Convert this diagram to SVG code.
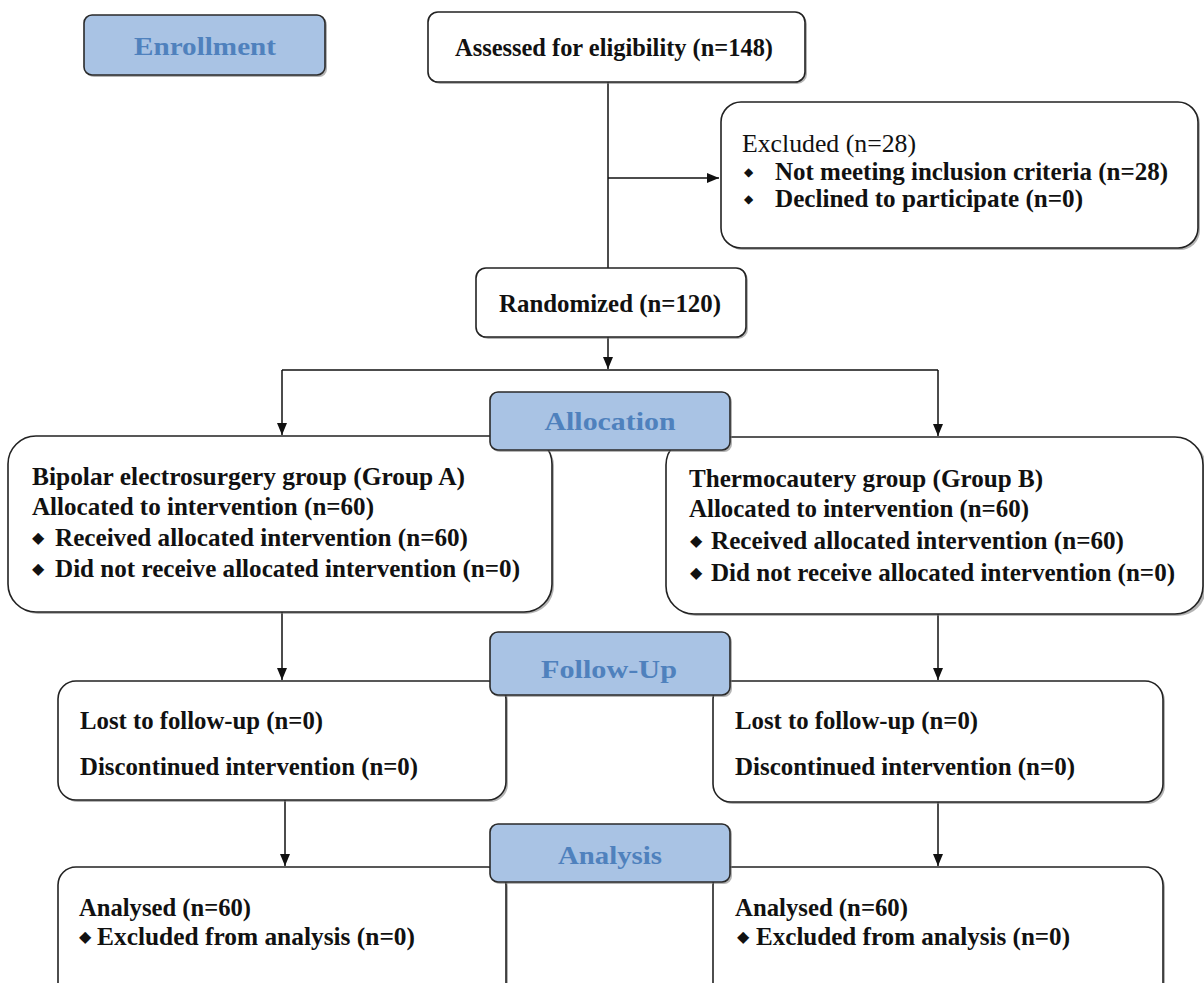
<svg xmlns="http://www.w3.org/2000/svg" width="1204" height="983" viewBox="0 0 1204 983">
<style>
.box{fill:#fff;stroke:#222;stroke-width:1.6}
.shadow{fill:#777;opacity:0.55}
.band{fill:#a9c3e4;stroke:#2a2a2a;stroke-width:1.6}
text{font-family:'Liberation Serif','Times New Roman',serif}
.t{font-size:25px;fill:#111;font-weight:bold}
.f{font-size:26px;fill:#111;font-weight:bold}
.tr{font-size:25px;fill:#111}
.d{font-size:16px;fill:#111}
.ds{font-size:12px;fill:#111}
.bt{font-size:26px;fill:#4f81bd;font-weight:bold;text-anchor:middle}
.ln{fill:none;stroke:#111;stroke-width:1.5}
</style>
<defs>
<marker id="ah" markerUnits="userSpaceOnUse" markerWidth="12" markerHeight="12" refX="12" refY="5" orient="auto">
<path d="M0,0 L12,5 L0,10 z" fill="#111"/>
</marker>
</defs>
<rect width="1204" height="983" fill="#fff"/>

<g id="connectors">
<line class="ln" x1="608" y1="82" x2="608" y2="268"/>
<line class="ln" x1="608" y1="178" x2="719" y2="178" marker-end="url(#ah)"/>
<line class="ln" x1="608" y1="337" x2="608" y2="369" marker-end="url(#ah)"/>
<polyline class="ln" points="282,370 938,370"/>
<line class="ln" x1="282" y1="370" x2="282" y2="435" marker-end="url(#ah)"/>
<line class="ln" x1="938" y1="370" x2="938" y2="436" marker-end="url(#ah)"/>
<line class="ln" x1="282" y1="612" x2="282" y2="680" marker-end="url(#ah)"/>
<line class="ln" x1="938" y1="614" x2="938" y2="680" marker-end="url(#ah)"/>
<line class="ln" x1="285" y1="800" x2="285" y2="866" marker-end="url(#ah)"/>
<line class="ln" x1="938" y1="802" x2="938" y2="866" marker-end="url(#ah)"/>
</g>

<g id="assessed">
<rect class="shadow" x="430" y="14" width="377" height="70" rx="10"/>
<rect class="box" x="428" y="12" width="377" height="70" rx="10"/>
<text class="t" x="455" y="56" textLength="318" lengthAdjust="spacingAndGlyphs">Assessed for eligibility  (n=148)</text>
</g>

<g id="excluded">
<rect class="shadow" x="723" y="104" width="477" height="146" rx="20"/>
<rect class="box" x="721" y="102" width="477" height="146" rx="20"/>
<text class="tr" x="742" y="152" textLength="174" lengthAdjust="spacingAndGlyphs">Excluded  (n=28)</text>
<text class="ds" x="744" y="176">◆</text>
<text class="t" x="775" y="180" textLength="393" lengthAdjust="spacingAndGlyphs">Not meeting inclusion  criteria  (n=28)</text>
<text class="ds" x="744" y="203">◆</text>
<text class="t" x="775" y="207" textLength="308" lengthAdjust="spacingAndGlyphs">Declined to participate  (n=0)</text>
</g>

<g id="randomized">
<rect class="shadow" x="478" y="270" width="270" height="69" rx="10"/>
<rect class="box" x="476" y="268" width="270" height="69" rx="10"/>
<text class="t" x="499" y="312" textLength="222" lengthAdjust="spacingAndGlyphs">Randomized  (n=120)</text>
</g>

<g id="groupA">
<rect class="shadow" x="10" y="438" width="544" height="176" rx="28"/>
<rect class="box" x="8" y="436" width="544" height="176" rx="28"/>
<text class="t" x="32" y="485" textLength="433" lengthAdjust="spacingAndGlyphs">Bipolar  electrosurgery  group  (Group  A)</text>
<text class="t" x="32" y="515" textLength="342" lengthAdjust="spacingAndGlyphs">Allocated  to intervention  (n=60)</text>
<text class="d" x="32" y="543">◆</text>
<text class="t" x="55" y="546" textLength="413" lengthAdjust="spacingAndGlyphs">Received allocated intervention  (n=60)</text>
<text class="d" x="32" y="574">◆</text>
<text class="t" x="55" y="577" textLength="465" lengthAdjust="spacingAndGlyphs">Did not receive allocated intervention  (n=0)</text>
</g>

<g id="groupB">
<rect class="shadow" x="668" y="439" width="538" height="177" rx="28"/>
<rect class="box" x="666" y="437" width="537" height="177" rx="28"/>
<text class="t" x="689" y="487" textLength="354" lengthAdjust="spacingAndGlyphs">Thermocautery  group  (Group  B)</text>
<text class="t" x="689" y="517" textLength="340" lengthAdjust="spacingAndGlyphs">Allocated  to intervention  (n=60)</text>
<text class="d" x="690" y="546">◆</text>
<text class="t" x="711" y="549" textLength="413" lengthAdjust="spacingAndGlyphs">Received allocated intervention  (n=60)</text>
<text class="d" x="690" y="578">◆</text>
<text class="t" x="711" y="581" textLength="464" lengthAdjust="spacingAndGlyphs">Did not receive allocated intervention  (n=0)</text>
</g>

<g id="followA">
<rect class="shadow" x="60" y="683" width="448" height="119" rx="18"/>
<rect class="box" x="58" y="681" width="448" height="119" rx="18"/>
<text class="f" x="80" y="729" textLength="243" lengthAdjust="spacingAndGlyphs">Lost to follow-up  (n=0)</text>
<text class="f" x="80" y="775" textLength="338" lengthAdjust="spacingAndGlyphs">Discontinued  intervention  (n=0)</text>
</g>

<g id="followB">
<rect class="shadow" x="715" y="683" width="450" height="121" rx="18"/>
<rect class="box" x="713" y="681" width="450" height="121" rx="18"/>
<text class="f" x="735" y="729" textLength="243" lengthAdjust="spacingAndGlyphs">Lost to follow-up  (n=0)</text>
<text class="f" x="735" y="775" textLength="340" lengthAdjust="spacingAndGlyphs">Discontinued  intervention  (n=0)</text>
</g>

<g id="analysisA">
<rect class="shadow" x="60" y="869" width="448" height="140" rx="18"/>
<rect class="box" x="58" y="867" width="448" height="140" rx="18"/>
<text class="f" x="79" y="916" textLength="172" lengthAdjust="spacingAndGlyphs">Analysed (n=60)</text>
<text class="d" x="79" y="942">◆</text>
<text class="f" x="97" y="945" textLength="318" lengthAdjust="spacingAndGlyphs">Excluded  from  analysis (n=0)</text>
</g>

<g id="analysisB">
<rect class="shadow" x="715" y="869" width="450" height="140" rx="18"/>
<rect class="box" x="713" y="867" width="450" height="140" rx="18"/>
<text class="f" x="735" y="916" textLength="173" lengthAdjust="spacingAndGlyphs">Analysed (n=60)</text>
<text class="d" x="737" y="942">◆</text>
<text class="f" x="756" y="945" textLength="314" lengthAdjust="spacingAndGlyphs">Excluded  from  analysis (n=0)</text>
</g>

<g id="enrollment">
<rect class="shadow" x="86" y="17" width="241" height="60" rx="8"/>
<rect class="band" x="84" y="15" width="241" height="60" rx="8"/>
<text class="bt" x="205" y="55" textLength="142" lengthAdjust="spacingAndGlyphs">Enrollment</text>
</g>

<g id="allocation">
<rect class="shadow" x="492" y="394" width="240" height="58" rx="8"/>
<rect class="band" x="490" y="392" width="240" height="58" rx="8"/>
<text class="bt" x="610" y="430" textLength="131" lengthAdjust="spacingAndGlyphs">Allocation</text>
</g>

<g id="followup">
<rect class="shadow" x="492" y="634" width="240" height="63" rx="8"/>
<rect class="band" x="490" y="632" width="240" height="63" rx="8"/>
<text class="bt" x="609" y="678" textLength="136" lengthAdjust="spacingAndGlyphs">Follow-Up</text>
</g>

<g id="analysis">
<rect class="shadow" x="492" y="826" width="240" height="58" rx="8"/>
<rect class="band" x="490" y="824" width="240" height="58" rx="8"/>
<text class="bt" x="610" y="864" textLength="104" lengthAdjust="spacingAndGlyphs">Analysis</text>
</g>
</svg>
